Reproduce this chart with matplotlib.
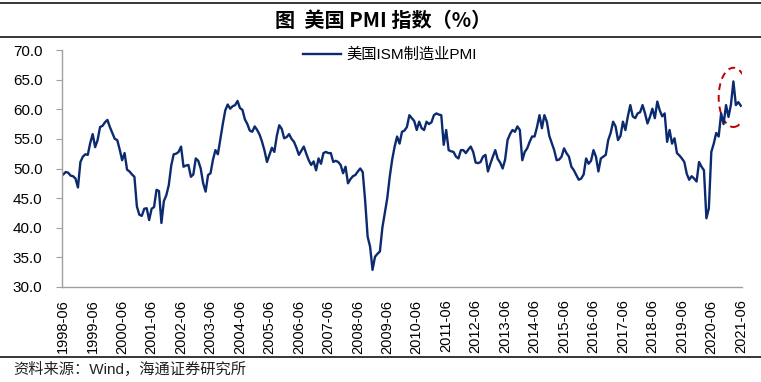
import numpy as np
import pandas as pd
import matplotlib
matplotlib.use("Agg")
import matplotlib.pyplot as plt
from matplotlib.patches import Ellipse

# ISM manufacturing PMI, monthly, 1998-06 .. 2021-06
pmi_1998 = [49.0, 49.4, 49.3, 48.8, 48.7, 48.3, 46.8]
pmi_1999 = [51.1, 52.0, 52.4, 52.3, 54.3, 55.8, 53.6, 54.8, 57.0, 57.2, 57.8, 58.2]
pmi_2000 = [57.0, 56.0, 55.0, 54.8, 53.2, 51.4, 52.6, 49.8, 49.5, 49.0, 48.6, 43.6]
pmi_2001 = [42.2, 42.0, 43.2, 43.3, 41.3, 43.2, 43.5, 46.4, 46.2, 40.8, 44.5, 45.5]
pmi_2002 = [47.2, 50.5, 52.4, 52.5, 52.8, 53.7, 50.3, 50.5, 50.6, 48.6, 49.0, 51.7]
pmi_2003 = [51.3, 50.0, 47.5, 46.1, 48.9, 49.2, 51.5, 53.1, 52.4, 55.0, 57.5, 59.8]
pmi_2004 = [60.8, 60.1, 60.5, 60.7, 61.4, 60.2, 59.9, 58.3, 57.5, 56.4, 56.2, 57.1]
pmi_2005 = [56.5, 55.7, 54.5, 53.0, 51.1, 52.3, 53.5, 52.8, 55.5, 57.3, 56.7, 55.1]
pmi_2006 = [55.3, 55.8, 55.0, 54.5, 53.5, 52.3, 53.0, 53.7, 52.5, 51.4, 50.6, 51.2]
pmi_2007 = [49.7, 51.7, 50.8, 52.6, 52.8, 52.6, 52.6, 51.1, 51.3, 51.1, 50.6, 49.2]
pmi_2008 = [50.3, 47.5, 48.2, 48.7, 48.9, 49.5, 50.0, 49.4, 44.5, 38.5, 36.8, 32.9]
pmi_2009 = [35.1, 35.6, 36.0, 40.0, 42.5, 45.0, 48.6, 51.5, 53.7, 55.4, 54.2, 56.2]
pmi_2010 = [56.4, 57.0, 59.0, 58.5, 58.0, 56.5, 57.9, 56.8, 56.5, 57.9, 57.5, 57.8]
pmi_2011 = [59.0, 59.3, 59.1, 59.0, 54.0, 56.5, 53.1, 52.9, 52.8, 52.0, 51.7, 53.1]
pmi_2012 = [53.1, 52.6, 53.2, 53.7, 52.8, 51.0, 50.9, 51.1, 52.0, 52.3, 49.5, 50.8]
pmi_2013 = [52.0, 53.1, 51.6, 51.0, 50.0, 51.5, 54.8, 55.8, 56.5, 56.2, 57.1, 56.5]
pmi_2014 = [51.4, 52.8, 53.4, 54.5, 55.4, 55.4, 57.0, 59.0, 56.8, 59.0, 57.9, 55.5]
pmi_2015 = [54.3, 53.1, 51.4, 51.5, 52.0, 53.4, 52.6, 52.0, 50.3, 49.7, 48.9, 48.1]
pmi_2016 = [48.3, 49.0, 51.7, 50.8, 51.3, 53.1, 52.0, 49.5, 51.7, 52.0, 52.3, 54.8]
pmi_2017 = [56.0, 57.9, 57.1, 54.8, 55.5, 57.9, 56.5, 58.8, 60.7, 58.8, 58.5, 59.3]
pmi_2018 = [59.5, 60.7, 59.3, 57.6, 58.7, 60.1, 58.5, 61.3, 59.8, 58.8, 59.3, 54.5]
pmi_2019 = [56.5, 54.2, 55.1, 52.6, 52.2, 51.7, 51.1, 49.1, 48.1, 48.7, 48.3, 47.8]
pmi_2020 = [51.1, 50.3, 49.7, 41.6, 43.3, 52.8, 54.2, 56.0, 55.4, 59.3, 57.5, 60.7]
pmi_2021 = [58.7, 60.8, 64.7, 60.7, 61.2, 60.6]

pmi = np.concatenate([pmi_1998, pmi_1999, pmi_2000, pmi_2001, pmi_2002, pmi_2003,
                      pmi_2004, pmi_2005, pmi_2006, pmi_2007, pmi_2008, pmi_2009,
                      pmi_2010, pmi_2011, pmi_2012, pmi_2013, pmi_2014, pmi_2015,
                      pmi_2016, pmi_2017, pmi_2018, pmi_2019, pmi_2020, pmi_2021])
months = pd.period_range("1998-06", "2021-06", freq="M").strftime("%Y-%m")
assert len(months) == len(pmi)

title = "图  美国 PMI 指数（%）"
series_name = "美国ISM制造业PMI"
source = "资料来源：Wind，海通证券研究所"

navy = "#0B2A6F"
grey = "#A0A0A0"
latin_cjk = ["Liberation Sans", "Noto Sans CJK SC"]

fig = plt.figure(figsize=(7.61, 3.82), dpi=100)
ax = fig.add_axes([62 / 761, 95 / 382, 680 / 761, 237 / 382])

x = np.arange(len(pmi))
ax.plot(x, pmi, color=navy, lw=1.7, label=series_name, solid_joinstyle="round")

# dashed ring around the 2021 readings
recent = np.asarray(pmi_2021)
xr = x[-len(recent):]
ring = Ellipse((xr[np.argmax(recent)], (recent.max() + recent.min()) / 2 + 0.3),
               width=12, height=recent.max() - recent.min() + 4,
               fill=False, ec="#C00000", ls=(0, (3.5, 2.5)), lw=1.4)
ax.add_patch(ring)

ax.set_xlim(-0.5, len(pmi) - 0.5)
ax.set_ylim(30, 70)
ax.set_yticks(np.arange(30, 71, 5))
ax.set_yticklabels([f"{v:.1f}" for v in np.arange(30, 71, 5)],
                   family="Liberation Sans", fontsize=11)
ax.set_xticks(x[::12])
ax.set_xticklabels(months[::12], rotation=90, family="Liberation Sans", fontsize=10.5)
ax.tick_params(axis="y", length=4, width=0.8, color=grey, pad=10)
ax.tick_params(axis="x", length=0, pad=9)

for s in ["top", "right"]:
    ax.spines[s].set_visible(False)
for s in ["left", "bottom"]:
    ax.spines[s].set_color(grey)
    ax.spines[s].set_linewidth(1.0)

leg = ax.legend(loc="center", bbox_to_anchor=(0.482, 0.979), frameon=False,
                handlelength=2.5, handletextpad=0.35,
                prop={"family": latin_cjk, "size": 11})

# title band and footer rules
for yy in [1 - 3 / 382, 1 - 37 / 382, 1 - 357 / 382]:
    fig.add_artist(plt.Line2D([0, 1], [yy, yy], color="black", lw=1.1,
                              transform=fig.transFigure))
fig.text(0.503, 1 - 20 / 382, title, ha="center", va="center", fontsize=14.5,
         fontweight="heavy", family=["Noto Sans CJK SC", "DejaVu Sans"])
fig.text(13 / 761, 1 - 369 / 382, source, ha="left", va="center", fontsize=11,
         family=latin_cjk, color="#222222")

fig.savefig("out.png", dpi=100)
